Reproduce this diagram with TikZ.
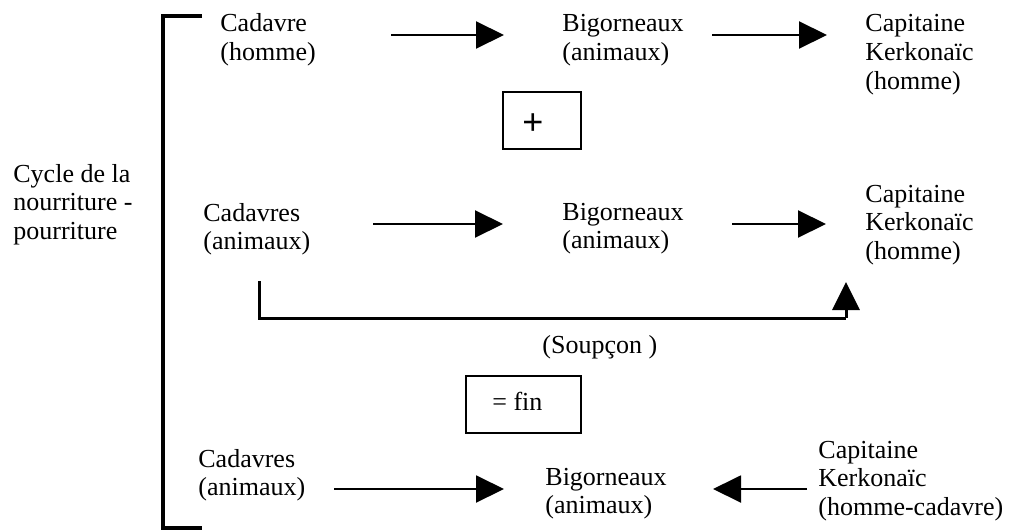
\documentclass[tikz,border=0pt]{standalone}
\usepackage{fontspec}
\setmainfont{Liberation Serif}
\usetikzlibrary{arrows.meta}
\newcommand\stk[1]{\vtop{\baselineskip=14.25pt\halign{##\hfil\cr#1\crcr}}}
\begin{document}
\begin{tikzpicture}[x=0.5pt,y=-0.5pt,
  font=\fontsize{13}{14.25}\selectfont,
  txt/.style={inner sep=0pt,anchor=base west},
  arr/.style={line width=1pt,-{Triangle[length=14pt,width=13.5pt]}},
  conn/.style={line width=1.5pt},
  brk/.style={line width=1.75pt},
  opbox/.style={draw,line width=0.8pt,inner sep=0pt}]
\useasboundingbox (0,0) rectangle (1015,530);
% left label and bracket
\node[txt] (cycle) at (13,182) {\stk{Cycle de la\cr nourriture -\cr pourriture}};
\coordinate (bt) at (202,16);
\coordinate (bb) at (202,528);
\draw[brk] (bt) -- (163,16) -- (163,528) -- (bb);
% row 1
\node[txt] (c1) at (220,32) {\stk{Cadavre\cr (homme)}};
\node[txt] (b1) at (562,32) {\stk{Bigorneaux\cr (animaux)}};
\node[txt] (k1) at (865,32) {\stk{Capitaine\cr Kerkona\"ic\cr (homme)}};
\coordinate (a1s) at (391,35); \coordinate (a1e) at (504,35);
\coordinate (a2s) at (712,35); \coordinate (a2e) at (827,35);
\draw[arr] (a1s) -- (a1e);
\draw[arr] (a2s) -- (a2e);
\node[opbox,minimum width=39pt,minimum height=28.5pt] (plusbox) at (542,120.5) {};
\node[inner sep=0pt,font=\fontspec{Liberation Sans}\fontsize{18}{20}\selectfont] (plus) at (533,124) {+};
% row 2
\node[txt] (c2) at (203,221) {\stk{Cadavres\cr (animaux)}};
\node[txt] (b2) at (562,220) {\stk{Bigorneaux\cr (animaux)}};
\node[txt] (k2) at (865,202) {\stk{Capitaine\cr Kerkona\"ic\cr (homme)}};
\coordinate (a3s) at (373,224); \coordinate (a3e) at (503,224);
\coordinate (a4s) at (732,224); \coordinate (a4e) at (826,224);
\draw[arr] (a3s) -- (a3e);
\draw[arr] (a4s) -- (a4e);
\coordinate (ss) at (259,281);
\coordinate (se) at (846,282);
\draw[conn] (ss) -- (259,318) -- (846,318);
\draw[arr,line width=1.5pt] (846,318) -- (se);
\node[txt] (soup) at (542,353) {(Soup\c{c}on )};
\node[opbox,minimum width=57.5pt,minimum height=28.5pt] (finbox) at (523.5,404.5) {};
\node[txt] (fin) at (492,410) {= fin};
% row 3
\node[txt] (c3) at (198,467) {\stk{Cadavres\cr (animaux)}};
\node[txt] (b3) at (545,485) {\stk{Bigorneaux\cr (animaux)}};
\node[txt] (k3) at (818,458) {\stk{Capitaine\cr Kerkona\"ic\cr (homme-cadavre)}};
\coordinate (a5s) at (334,489); \coordinate (a5e) at (504,489);
\coordinate (a6s) at (807,489); \coordinate (a6e) at (713,489);
\draw[arr] (a5s) -- (a5e);
\draw[arr] (a6s) -- (a6e);
\end{tikzpicture}
\end{document}
